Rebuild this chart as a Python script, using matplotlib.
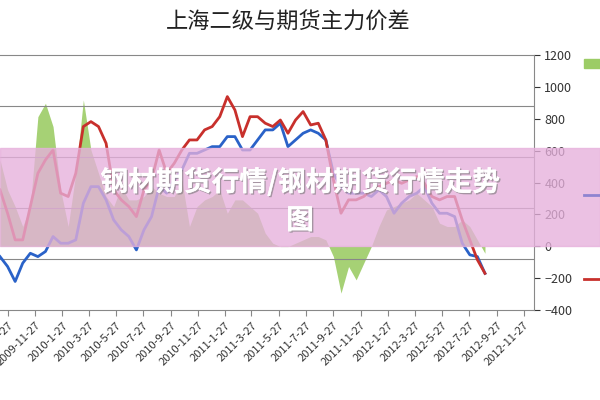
import matplotlib
matplotlib.use("Agg")
import matplotlib.pyplot as plt
import matplotlib.patheffects as pe
from matplotlib.lines import Line2D
from matplotlib.patches import Patch
import pandas as pd
import numpy as np

plt.rcParams['font.family'] = ['Noto Sans CJK SC', 'DejaVu Sans']

dates = pd.date_range('2009-09-09', periods=65, freq='17D')
spot = [-65,-127,-221,-106,-44,-65,-33,61,19,19,40,270,374,374,291,165,103,61,-23,103,
        186,374,333,416,479,583,583,604,625,625,688,688,604,604,667,730,730,772,625,667,
        709,730,709,667,458,374,333,333,333,312,354,312,207,270,312,333,374,270,207,207,
        186,19,-54,-65,-170]
futures = [354,207,40,40,249,458,542,604,333,312,458,751,782,751,646,354,291,249,186,354,
           416,604,458,521,604,667,667,730,751,813,939,855,688,813,813,772,751,792,709,792,
           845,761,772,667,416,207,291,291,312,354,374,395,416,395,416,437,395,312,291,312,
           312,165,40,-85,-170]
spread = [542,354,249,124,249,813,897,751,354,124,458,918,604,458,312,249,374,291,291,312,
          374,333,312,312,416,124,249,291,312,354,207,291,291,249,207,82,19,-2,-2,19,
          40,61,61,40,-65,-294,-127,-211,-106,-2,124,228,249,270,291,333,291,249,145,124,
          124,165,124,40,-44]
tick_dates = pd.date_range('2009-09-01', '2012-11-01', freq='2MS') + pd.Timedelta(days=26)
title = '上海二级与期货主力价差'
labels = ['价差', '上海二级', '期货主力']

fig = plt.figure(figsize=(6, 4), dpi=100)
ax = fig.add_axes([0.0, 0.225, 0.89, 0.6375])
ax.fill_between(dates, spread, 0, color='#9ccc66', lw=0, alpha=0.9, zorder=1)
ax.plot(dates, spot, color='#2a62c8', lw=2, zorder=3)
ax.plot(dates, futures, color='#c8302c', lw=2, zorder=3)

ax.set_ylim(-400, 1200)
ax.set_xlim(pd.Timestamp('2009-09-09'), pd.Timestamp('2012-12-20'))
ax.yaxis.tick_right()
ax.set_yticks(np.arange(-400, 1201, 200))
ax.set_yticks(np.arange(-400, 1201, 320), minor=True)
ax.grid(which='minor', axis='y', color='#888888', lw=0.8)
ax.tick_params(axis='y', which='minor', length=0)
ax.tick_params(axis='y', which='major', labelsize=9, colors='#333333', length=4, direction='out')
ax.set_xticks(tick_dates)
ax.set_xticklabels([f'{d.year}-{d.month}-{d.day}' for d in tick_dates],
                   rotation=45, ha='right', va='top', fontsize=8, color='#333333',
                   rotation_mode='anchor')
ax.tick_params(axis='x', length=4, direction='out', colors='#888888', labelcolor='#333333')
ax.spines['left'].set_visible(False)
for s in ['top', 'right', 'bottom']:
    ax.spines[s].set_color('#888888')

fig.text(0.48, 0.945, title, ha='center', va='center', fontsize=16, color='#222222')

h = [Patch(color='#9ccc66'), Line2D([], [], color='#8e84d0', lw=2), Line2D([], [], color='#c8302c', lw=2)]
ys = [0.84, 0.51, 0.30]
for hh, lab, yy in zip(h, labels, ys):
    fig.legend([hh], [lab], loc='center left', bbox_to_anchor=(0.955, yy), frameon=False,
               fontsize=9, handlelength=2)

fig.patches.append(plt.Rectangle((0, 0.385), 1, 0.245, transform=fig.transFigure,
                                 color='#e6b0dc', alpha=0.78, zorder=5))
eff = [pe.withSimplePatchShadow(offset=(1, -1), shadow_rgbFace='#777777', alpha=0.6), pe.Normal()]
fig.text(0.5, 0.545, '钢材期货行情/钢材期货行情走势', ha='center', va='center', fontsize=20,
         color='white', fontweight='bold', zorder=6, path_effects=eff)
fig.text(0.5, 0.448, '图', ha='center', va='center', fontsize=20,
         color='white', fontweight='bold', zorder=6, path_effects=eff)

fig.savefig('out.png', dpi=100)
